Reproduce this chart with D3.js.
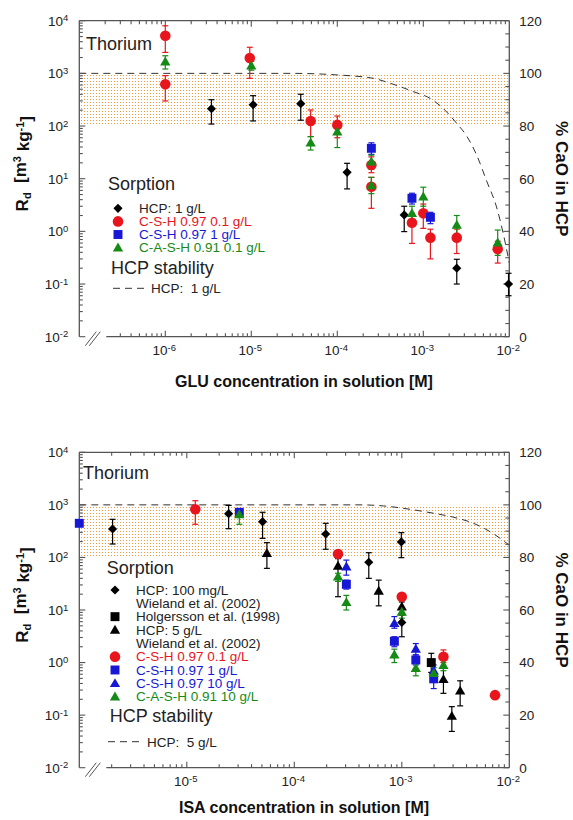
<!DOCTYPE html>
<html><head><meta charset="utf-8">
<script src="https://cdn.jsdelivr.net/npm/d3@7"></script>
<style>body{margin:0;background:#fff}svg{display:block}text{font-family:"Liberation Sans",Arial,Helvetica,sans-serif}</style>
</head><body><svg id="c" width="573" height="820"></svg>
<script>
// ================= DATA =================
// Tick labels
const rdTicks = [1e-2, 1e-1, 1e0, 1e1, 1e2, 1e3, 1e4];
const caoTicks = [0, 20, 40, 60, 80, 100, 120];
const gluXTicks = [1e-6, 1e-5, 1e-4, 1e-3, 1e-2];
const isaXTicks = [1e-5, 1e-4, 1e-3, 1e-2];

// ---- Top panel: GLU ----
const gluHcpX  = [3.44e-6, 1.05e-5, 3.76e-5, 1.3e-4, 6.0e-4, 2.45e-3, 9.8e-3];
const gluHcpY  = [213, 254, 266, 13.2, 2.05, 0.2, 0.1];
const gluHcpLo = [109, 125, 129, 6.4, 0.99, 0.1, 0.06];
const gluHcpHi = [316, 377, 401, 19.6, 3.0, 0.295, 0.16];

const gluCshX  = [1e-6, 1e-6, 9.6e-6, 4.9e-5, 1e-4, 2.49e-4, 2.49e-4, 7.38e-4, 1e-3, 1.21e-3, 2.45e-3, 7.33e-3];
const gluCshY  = [5190, 620, 1960, 125, 105, 18.2, 7.05, 1.46, 2.2, 0.76, 0.76, 0.46];
const gluCshLo = [2500, 299, 805, 63, 60, 13, 2.74, 0.59, 1.14, 0.3, 0.38, 0.25];
const gluCshHi = [8000, 904, 3130, 202, 155, 26, 10.6, 2.2, 3.3, 1.1, 1.1, 0.65];

const gluCsh1X  = [2.49e-4, 7.38e-4, 1.21e-3];
const gluCsh1Y  = [37.8, 4.25, 1.85];
const gluCsh1Lo = [29, 3.3, 1.4];
const gluCsh1Hi = [48, 5.3, 2.3];

const gluCashX  = [1e-6, 1e-5, 4.9e-5, 1e-4, 2.49e-4, 2.49e-4, 7.38e-4, 1e-3, 2.45e-3, 7.33e-3];
const gluCashY  = [1670, 1400, 48.3, 78, 21, 7.4, 2.2, 4.55, 1.32, 0.61];
const gluCashLo = [1210, 1150, 35, 39, 15, 5.2, 1.6, 3.0, 0.8, 0.35];
const gluCashHi = [2160, 1700, 63, 105, 28, 10.6, 3.0, 6.9, 2.0, 1.06];

// HCP stability (% CaO), 1 g/L
const gluStabX = [1e-7, 3e-5, 1e-4, 2.64e-4, 4.17e-4, 7.76e-4, 1.2e-3, 1.7e-3, 2.45e-3, 3.24e-3, 4.17e-3, 5.5e-3, 7.1e-3, 8.5e-3, 1e-2];
const gluStabY = [100, 100, 99.4, 98.1, 96.2, 93.0, 90.5, 86.7, 81.0, 75.9, 69.0, 58.8, 49.3, 39.2, 28];

// ---- Bottom panel: ISA ----
const isaHcpX  = [2.04e-6, 2.45e-5, 5.07e-5, 1.96e-4, 4.93e-4, 9.9e-4, 1e-3];
const isaHcpY  = [348, 680, 479, 279, 80.9, 197, 5.8];
const isaHcpLo = [180, 352, 231, 143, 40, 99, 3.1];
const isaHcpHi = [531, 977, 723, 446, 123, 296, 8];

const isaHolX  = [1.88e-3];
const isaHolY  = [1.0];
const isaHolLo = [0.65];
const isaHolHi = [1.5];

const isaHcp5X  = [5.56e-5, 2.55e-4, 6.1e-4, 1e-3, 2.44e-3, 2.92e-3, 3.49e-3];
const isaHcp5Y  = [120, 68.7, 23, 11.6, 0.48, 0.096, 0.29];
const isaHcp5Lo = [62, 17.9, 12, 6, 0.26, 0.049, 0.15];
const isaHcp5Hi = [191, 95, 37, 14.2, 0.78, 0.145, 0.45];

const isaCshX  = [1.2e-5, 2.55e-4, 1e-3, 2.44e-3, 7.37e-3];
const isaCshY  = [824, 116, 17.9, 1.29, 0.24];
const isaCshLo = [427, null, null, 1.0, null];
const isaCshHi = [1200, null, null, 1.74, null];

const isaCsh1X  = [1e-6, 3.08e-5, 3.05e-4, 8.53e-4, 1.35e-3, 1.98e-3];
const isaCsh1Y  = [446, 723, 30.8, 2.54, 1.12, 0.49];
const isaCsh1Lo = [null, null, 25, 2.0, 0.9, 0.32];
const isaCsh1Hi = [null, null, 37, 3.1, 1.4, 0.65];

const isaCsh10X  = [3.05e-4, 8.53e-4, 1.35e-3, 1.98e-3];
const isaCsh10Y  = [66.7, 5.6, 1.81, 0.70];
const isaCsh10Lo = [46, 4.5, 1.4, 0.5];
const isaCsh10Hi = [89, 7.5, 2.3, 0.9];

const isaCashX  = [3.08e-5, 2.55e-4, 3.05e-4, 1e-3, 8.53e-4, 1.35e-3, 1.98e-3, 2.44e-3];
const isaCashY  = [660, 43, 14, 9.2, 1.41, 0.78, 0.625, 0.89];
const isaCashLo = [427, 35, 10, 7, 1.0, 0.56, 0.45, 0.7];
const isaCashHi = [800, 50, 19, 11, 1.8, 1.0, 0.8, 1.1];

// HCP stability (% CaO), 5 g/L
const isaStabX = [1e-6, 4e-4, 6.76e-4, 1.2e-3, 1.98e-3, 3.03e-3, 4.64e-3, 6.62e-3, 9.46e-3, 1e-2];
const isaStabY = [100, 100, 99.6, 98.3, 96.8, 95.3, 93.0, 89.8, 85.4, 84.6];

// ================= DRAWING =================
const BLACK = "#000", RED = "#e8161c", BLUE = "#1717d6", GREEN = "#168a16";
const svg = d3.select("#c");
const defs = svg.append("defs");
const pat = defs.append("pattern").attr("id", "dots").attr("patternUnits", "userSpaceOnUse")
  .attr("width", 3).attr("height", 3);
pat.append("rect").attr("width", 1).attr("height", 1).attr("fill", "#f39a3c");

const xL = 79.3, xR = 509.3;
const AX = "#555";
const NB = "\u00a0";

function sym(shape) {
  if (shape === "circle") return d3.symbol(d3.symbolCircle, 88)();
  if (shape === "square") return d3.symbol(d3.symbolSquare, 80)();
  if (shape === "diamond") return d3.symbol(d3.symbolSquare, 42)();
  return d3.symbol(d3.symbolTriangle, 46)();
}
function drawMark(g, shape, cx, cy, color) {
  g.append("path").attr("d", sym(shape))
    .attr("transform", `translate(${cx},${cy})` + (shape === "diamond" ? " rotate(45)" : "") + (shape === "triangle" ? " translate(0,0.8)" : ""))
    .attr("fill", color);
}
function supText(t, base, sup, size) {
  t.append("tspan").text(base);
  t.append("tspan").attr("dy", "-0.45em").attr("font-size", size).text(sup);
}

function panel(p) {
  const x = d3.scaleLog().domain(p.xDomain).range([xL, xR]);
  const y = d3.scaleLog().domain([1e-2, 1e4]).range([p.yBot, p.yTop]);
  const yr = d3.scaleLinear().domain([0, 120]).range([p.yBot, p.yTop]);
  const g = svg.append("g");

  // stability band (80-100 % CaO ~ Rd 1e2-1e3)
  g.append("rect").attr("x", xL).attr("y", y(1e3)).attr("width", xR - xL)
    .attr("height", y(1e2) - y(1e3)).attr("fill", "url(#dots)");

  // dashed stability curve
  const line = d3.line().x(d => x(d[0])).y(d => yr(d[1])).curve(d3.curveMonotoneX);
  g.append("path").datum(d3.zip(p.stabX, p.stabY)).attr("d", line)
    .attr("fill", "none").attr("stroke", "#333").attr("stroke-width", 1).attr("stroke-dasharray", "7,5");

  // frame
  const axisStart = xL + 27;
  g.append("line").attr("x1", xL).attr("x2", xL).attr("y1", p.yTop).attr("y2", p.yBot).attr("stroke", AX).attr("stroke-width", 1.3);
  g.append("line").attr("x1", xR).attr("x2", xR).attr("y1", p.yTop).attr("y2", p.yBot).attr("stroke", AX).attr("stroke-width", 1.3);
  g.append("line").attr("x1", xL).attr("x2", xR).attr("y1", p.yTop).attr("y2", p.yTop).attr("stroke", AX).attr("stroke-width", 1.3);
  g.append("line").attr("x1", axisStart).attr("x2", xR).attr("y1", p.yBot).attr("y2", p.yBot).attr("stroke", AX).attr("stroke-width", 1.3);
  // break marks
  [0, 4].forEach(o => g.append("line").attr("x1", xL + 6 + o).attr("y1", p.yBot + 9).attr("x2", xL + 17 + o).attr("y2", p.yBot - 5)
    .attr("stroke", AX).attr("stroke-width", 1));

  // tick positions
  const [e0, e1] = [Math.round(Math.log10(p.xDomain[0])), Math.round(Math.log10(p.xDomain[1]))];
  const xMajor = d3.range(e0, e1 + 1).map(e => Math.pow(10, e));
  const xMinor = [];
  d3.range(e0, e1).forEach(e => d3.range(2, 10).forEach(k => xMinor.push(k * Math.pow(10, e))));
  const yMajor = rdTicks;
  const yMinor = [];
  d3.range(-2, 4).forEach(e => d3.range(2, 10).forEach(k => yMinor.push(k * Math.pow(10, e))));

  const tickG = g.append("g").attr("stroke", AX).attr("stroke-width", 1.1);
  function tk(x1, y1, x2, y2) { tickG.append("line").attr("x1", x1).attr("y1", y1).attr("x2", x2).attr("y2", y2); }
  xMajor.forEach(v => { const px = x(v); if (px > xL + 1 && px < xR - 1) { tk(px, p.yTop, px, p.yTop + 6); if (px >= axisStart) tk(px, p.yBot, px, p.yBot - 6); } });
  xMinor.forEach(v => { const px = x(v); if (px > xL + 1 && px < xR - 1) { tk(px, p.yTop, px, p.yTop + 3.5); if (px >= axisStart) tk(px, p.yBot, px, p.yBot - 3.5); } });
  yMajor.forEach(v => { const py = y(v); tk(xL, py, xL + 6, py); });
  yMinor.forEach(v => { const py = y(v); tk(xL, py, xL + 3.5, py); });
  d3.range(0, 121, 5).forEach(v => { const py = yr(v); tk(xR, py, xR - (v % 20 === 0 ? 6 : 4), py); });

  // tick labels
  const lab = g.append("g").attr("fill", "#222").attr("font-size", 13.5);
  yMajor.forEach(v => {
    const t = lab.append("text").attr("x", xL - 11).attr("y", y(v) + 4.8).attr("text-anchor", "end");
    supText(t, "10", String(Math.round(Math.log10(v))), 9.5);
  });
  caoTicks.forEach(v => lab.append("text").attr("x", xR + 10).attr("y", yr(v) + 4.8).text(v));
  p.xTicks.forEach(v => {
    const t = lab.append("text").attr("x", x(v) - 1).attr("y", p.yBot + 18.5).attr("text-anchor", "middle");
    supText(t, "10", String(Math.round(Math.log10(v))), 9.5);
  });

  // axis titles
  const cy = (p.yTop + p.yBot) / 2;
  const lt = g.append("text").attr("transform", `translate(28,${cy - 15}) rotate(-90)`).attr("text-anchor", "middle")
    .attr("font-size", 17).attr("font-weight", "bold").attr("fill", "#111");
  lt.append("tspan").text("R");
  lt.append("tspan").attr("dy", "0.3em").attr("font-size", 11).text("d");
  lt.append("tspan").attr("dy", "-0.3em").text(NB + NB + "[m");
  lt.append("tspan").attr("dy", "-0.45em").attr("font-size", 11).text("3");
  lt.append("tspan").attr("dy", "0.45em").text(NB + "kg");
  lt.append("tspan").attr("dy", "-0.45em").attr("font-size", 11).text("-1");
  lt.append("tspan").attr("dy", "0.45em").text("]");
  g.append("text").attr("transform", `translate(556,${cy}) rotate(90)`).attr("text-anchor", "middle")
    .attr("font-size", 17).attr("font-weight", "bold").attr("fill", "#111").text("% CaO in HCP");
  g.append("text").attr("x", 304).attr("y", p.titleY).attr("text-anchor", "middle")
    .attr("font-size", 16).attr("font-weight", "bold").attr("fill", "#111").text(p.xTitle);

  // Thorium
  g.append("text").attr("x", p.thX).attr("y", p.thY).attr("font-size", 18).attr("fill", "#222").text("Thorium");

  // error bars & markers
  p.series.forEach(s => {
    const eg = g.append("g").attr("stroke", s.color).attr("stroke-width", 1.2);
    s.x.forEach((xv, i) => {
      if (s.lo[i] == null) return;
      const px = x(xv);
      eg.append("line").attr("x1", px).attr("x2", px).attr("y1", y(s.lo[i])).attr("y2", y(s.hi[i]));
      [s.lo[i], s.hi[i]].forEach(v => eg.append("line").attr("x1", px - 3).attr("x2", px + 3).attr("y1", y(v)).attr("y2", y(v)));
    });
  });
  p.series.forEach(s => {
    s.x.forEach((xv, i) => drawMark(g, s.shape, x(xv), y(s.y[i]), s.color));
  });

  // legend
  g.append("text").attr("x", p.leg.x0).attr("y", p.leg.sorpY).attr("font-size", 18).attr("fill", "#222").text("Sorption");
  p.leg.rows.forEach((r, i) => {
    const ry = p.leg.row0 + i * p.leg.step;
    if (r.shape) drawMark(g, r.shape, p.leg.mx, ry, r.mcolor);
    g.append("text").attr("x", p.leg.tx).attr("y", ry + 4.8).attr("font-size", 13.5).attr("fill", r.tcolor).text(r.text);
  });
  g.append("text").attr("x", p.leg.x0 + 3).attr("y", p.leg.stabY).attr("font-size", 18).attr("fill", "#222").text("HCP stability");
  g.append("line").attr("x1", p.leg.dx0).attr("x2", p.leg.dx1).attr("y1", p.leg.dashY).attr("y2", p.leg.dashY)
    .attr("stroke", "#333").attr("stroke-width", 1).attr("stroke-dasharray", "7,5");
  g.append("text").attr("x", p.leg.dx1 + 4).attr("y", p.leg.dashY + 5).attr("font-size", 13.5).attr("fill", "#222").text(p.leg.dashText);
}

const TXT = "#222";
panel({
  yTop: 20.7, yBot: 336.7, xDomain: [1e-7, 1e-2], xTicks: gluXTicks,
  stabX: gluStabX, stabY: gluStabY,
  xTitle: "GLU concentration in solution [M]", titleY: 387,
  thX: 86, thY: 50,
  series: [
    {x: gluHcpX, y: gluHcpY, lo: gluHcpLo, hi: gluHcpHi, shape: "diamond", color: BLACK},
    {x: gluCshX, y: gluCshY, lo: gluCshLo, hi: gluCshHi, shape: "circle", color: RED},
    {x: gluCsh1X, y: gluCsh1Y, lo: gluCsh1Lo, hi: gluCsh1Hi, shape: "square", color: BLUE},
    {x: gluCashX, y: gluCashY, lo: gluCashLo, hi: gluCashHi, shape: "triangle", color: GREEN}
  ],
  leg: {x0: 108, sorpY: 190, mx: 118, tx: 139, row0: 208.3, step: 13.1, stabY: 274, dashY: 288.3, dx0: 113, dx1: 147,
    dashText: "HCP:" + NB + NB + "1 g/L",
    rows: [
      {shape: "diamond", mcolor: BLACK, text: "HCP: 1 g/L", tcolor: TXT},
      {shape: "circle", mcolor: RED, text: "C-S-H 0.97 0.1 g/L", tcolor: RED},
      {shape: "square", mcolor: BLUE, text: "C-S-H 0.97 1 g/L", tcolor: BLUE},
      {shape: "triangle", mcolor: GREEN, text: "C-A-S-H 0.91 0.1 g/L", tcolor: GREEN}
    ]}
});
panel({
  yTop: 452.3, yBot: 767.7, xDomain: [1e-6, 1e-2], xTicks: isaXTicks,
  stabX: isaStabX, stabY: isaStabY,
  xTitle: "ISA concentration in solution [M]", titleY: 813,
  thX: 83, thY: 478.5,
  series: [
    {x: isaHcpX, y: isaHcpY, lo: isaHcpLo, hi: isaHcpHi, shape: "diamond", color: BLACK},
    {x: isaHolX, y: isaHolY, lo: isaHolLo, hi: isaHolHi, shape: "square", color: BLACK},
    {x: isaHcp5X, y: isaHcp5Y, lo: isaHcp5Lo, hi: isaHcp5Hi, shape: "triangle", color: BLACK},
    {x: isaCshX, y: isaCshY, lo: isaCshLo, hi: isaCshHi, shape: "circle", color: RED},
    {x: isaCsh1X, y: isaCsh1Y, lo: isaCsh1Lo, hi: isaCsh1Hi, shape: "square", color: BLUE},
    {x: isaCsh10X, y: isaCsh10Y, lo: isaCsh10Lo, hi: isaCsh10Hi, shape: "triangle", color: BLUE},
    {x: isaCashX, y: isaCashY, lo: isaCashLo, hi: isaCashHi, shape: "triangle", color: GREEN}
  ],
  leg: {x0: 106.7, sorpY: 573.5, mx: 115, tx: 136, row0: 590, step: 13.33, stabY: 722, dashY: 741.7, dx0: 108, dx1: 143,
    dashText: "HCP:" + NB + NB + "5 g/L",
    rows: [
      {shape: "diamond", mcolor: BLACK, text: "HCP: 100 mg/L", tcolor: TXT},
      {shape: null, text: "Wieland et al. (2002)", tcolor: TXT},
      {shape: "square", mcolor: BLACK, text: "Holgersson et al. (1998)", tcolor: TXT},
      {shape: "triangle", mcolor: BLACK, text: "HCP: 5 g/L", tcolor: TXT},
      {shape: null, text: "Wieland et al. (2002)", tcolor: TXT},
      {shape: "circle", mcolor: RED, text: "C-S-H 0.97 0.1 g/L", tcolor: RED},
      {shape: "square", mcolor: BLUE, text: "C-S-H 0.97 1 g/L", tcolor: BLUE},
      {shape: "triangle", mcolor: BLUE, text: "C-S-H 0.97 10 g/L", tcolor: BLUE},
      {shape: "triangle", mcolor: GREEN, text: "C-A-S-H 0.91 10 g/L", tcolor: GREEN}
    ]}
});
</script></body></html>
